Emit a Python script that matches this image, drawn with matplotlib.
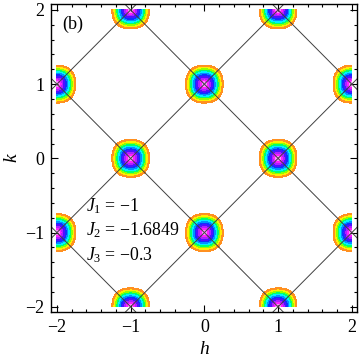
import numpy as np
import matplotlib
matplotlib.use('Agg')
import matplotlib.pyplot as plt
from matplotlib.ticker import MultipleLocator

plt.rcParams['font.family'] = 'Liberation Serif'
plt.rcParams['mathtext.fontset'] = 'custom'
plt.rcParams['mathtext.rm'] = 'Liberation Serif'
plt.rcParams['mathtext.it'] = 'Liberation Serif:italic'

# peak positions (h, k) of the structure factor
peak_h = [-1, 1, -2, 0, 2, -1, 1, -2, 0, 2, -1, 1]
peak_k = [2, 2, 1, 1, 1, 0, 0, -1, -1, -1, -2, -2]
# diagonal lines k = +-h + c
line_offsets = [-3, -1, 1, 3]
ticks = [-2, -1, 0, 1, 2]
tick_labels = ['\u22122', '\u22121', '0', '1', '2']
J_names = ['$J_1$', '$J_2$', '$J_3$']
J_values = ['\u22121', '\u22121.6849', '\u22120.3']
# contour bands, centre -> edge
band_levels = [0, 0.02, 0.045, 0.07, 0.095, 0.12, 0.14, 0.16, 0.18, 0.2, 0.22, 0.24, 0.255]
band_colors = ['#ffffff', '#ff90ff', '#ff20ff', '#b020ff', '#5010ff', '#1030ff',
               '#0090ff', '#00f0ff', '#00ff70', '#90ff00', '#ffee00', '#ff9020']

def field(h, k):
  # rounded-square distance to the nearest peak
  d = np.full(h.shape, np.inf)
  for ph, pk in zip(peak_h, peak_k):
    r = (np.abs(h - ph) ** 2.4 + np.abs(k - pk) ** 2.4) ** (1 / 2.4)
    d = np.minimum(d, r)
  return d

def draw():
  fig = plt.figure(figsize=(3.6, 3.62), dpi=100)
  ax = fig.add_axes([51 / 360, 50 / 362, 306 / 360, 308 / 362])

  g = np.linspace(-2, 2, 801)
  H, K = np.meshgrid(g, g)
  D = field(H, K)
  ax.contourf(H, K, D, levels=band_levels, colors=band_colors)

  x = np.linspace(-2.5, 2.5, 10)
  for c in line_offsets:
    ax.plot(x, x + c, color='#404040', lw=0.7)
    ax.plot(x, -x + c, color='#404040', lw=0.7)

  ax.set_xlim(-2.08, 2.07)
  ax.set_ylim(-2.07, 2.08)
  ax.set_xticks(ticks)
  ax.set_xticklabels(tick_labels)
  ax.set_yticks(ticks)
  ax.set_yticklabels(tick_labels)
  ax.xaxis.set_minor_locator(MultipleLocator(0.2))
  ax.yaxis.set_minor_locator(MultipleLocator(0.2))
  ax.tick_params(which='both', direction='in', top=True, right=True, labelsize=13, width=0.8)
  ax.tick_params(which='major', length=5, pad=5)
  ax.tick_params(which='minor', length=2.5)
  for s in ax.spines.values():
    s.set_linewidth(1.0)

  ax.set_xlabel('$h$', fontsize=14, labelpad=4)
  ax.set_ylabel('$k$', fontsize=14, labelpad=3)
  ax.text(-1.93, 1.8, '(b)', fontsize=13, va='center')
  for i in range(3):
    ax.text(-1.6, -0.64 - 0.33 * i, J_names[i] + ' = ' + J_values[i], fontsize=12.8, va='center')

  fig.savefig('out.png', dpi=100)

if __name__ == '__main__':
  draw()
